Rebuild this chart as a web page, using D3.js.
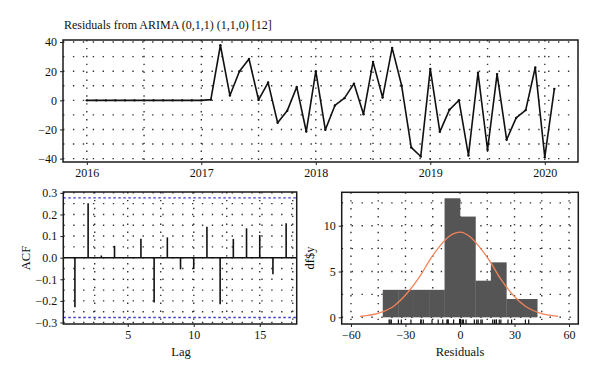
<!DOCTYPE html>
<html>
<head>
<meta charset="utf-8">
<script src="https://cdn.jsdelivr.net/npm/d3@7"></script>
<style>
	body { margin: 0; background: #fff; }
	svg { font-family: "Liberation Serif", serif; }
	.tick text { fill: #111; }
</style>
</head>
<body>
<div id="chart"></div>
<script>

// residuals (monthly, starting Jan 2016)

var startYear = 2016;
var residuals = [
	0, 0, 0, 0, 0, 0, 0, 0, 0, 0, 0, 0,
	0, 0.5, 37.8, 3.3, 20, 28.4, 0.3, 12.2, -15.4, -7.2, 9.2, -21.4,
	20, -20.2, -3.5, 1.5, 11.5, -9.5, 26.4, 1.9, 36, 10, -32.3, -38.5,
	21.6, -21.6, -6.5, 0.1, -37.8, 19, -33.9, 18, -27, -12, -6.7, 22.5,
	-39, 7.9
];

// autocorrelation by lag

var lags = [1, 2, 3, 4, 5, 6, 7, 8, 9, 10, 11, 12, 13, 14, 15, 16, 17];
var acfValues = [-0.23, 0.252, 0.01, 0.055, 0.002, 0.088, -0.208, 0.094, -0.054,
	-0.053, 0.143, -0.216, 0.087, 0.136, 0.105, -0.077, 0.159];
var acfBound = 0.277;

// histogram bins and counts

var binEdges = [-42.5, -34, -25.5, -17, -8.5, 0, 8.5, 17, 25.5, 34, 42.5];
var binCounts = [3, 3, 3, 3, 13, 11, 4, 6, 2, 2];

// normal curve

var curveX = [-55, -44, -36, -28, -22, -16.5, -11, -5.5, 0, 5.5, 11, 16.5, 22, 28, 36, 44, 54];
var curveY = [0.1, 0.5, 1.3, 2.9, 4.5, 6.3, 7.8, 8.9, 9.3, 8.8, 7.6, 6.1, 4.3, 2.7, 1.2, 0.45, 0.1];

// tick labels

var yearTicks = [2016, 2017, 2018, 2019, 2020];
var residTicks = [-40, -20, 0, 20, 40];
var acfTicks = [-0.3, -0.2, -0.1, 0.0, 0.1, 0.2, 0.3];
var lagTicks = [5, 10, 15];
var histXTicks = [-60, -30, 0, 30, 60];
var histYTicks = [0, 5, 10];


var svgWidth = 600;
var svgHeight = 382;

var svg = d3.select("#chart")
	.append("svg")
	.attr("width", svgWidth)
	.attr("height", svgHeight);

// helper: draws dotted grid and axes for a panel

function drawPanel(box, xScale, yScale, xMajor, xMinor, yMajor, yMinor, xFormat, yFormat) {

	var g = svg.append("g");

	// dotted grid

	g.selectAll(".hgrid")
		.data(yMajor.concat(yMinor))
		.enter()
		.append("line")
		.attr("x1", box.x0)
		.attr("x2", box.x1)
		.attr("y1", d => yScale(d))
		.attr("y2", d => yScale(d))
		.attr("stroke", "#333")
		.attr("stroke-width", 1.4)
		.attr("stroke-dasharray", "1.4,8.5");

	g.selectAll(".vgrid")
		.data(xMajor.concat(xMinor))
		.enter()
		.append("line")
		.attr("x1", d => xScale(d))
		.attr("x2", d => xScale(d))
		.attr("y1", box.y0)
		.attr("y2", box.y1)
		.attr("stroke", "#333")
		.attr("stroke-width", 1.4)
		.attr("stroke-dasharray", "1.4,6.5");

	// axes

	var bottomAxis = d3.axisBottom(xScale)
		.tickValues(xMajor)
		.tickSize(3)
		.tickPadding(3)
		.tickFormat(xFormat);

	var leftAxis = d3.axisLeft(yScale)
		.tickValues(yMajor)
		.tickSize(3)
		.tickPadding(3)
		.tickFormat(yFormat);

	var xAxis = svg.append("g")
		.attr("transform", `translate(0, ${box.y1})`)
		.call(bottomAxis);

	var yAxis = svg.append("g")
		.attr("transform", `translate(${box.x0}, 0)`)
		.call(leftAxis);

	[xAxis, yAxis].forEach(function(a) {
		a.select(".domain").remove();
		a.selectAll(".tick line").attr("stroke", "#222");
		a.selectAll(".tick text")
			.style("font-size", "12px")
			.style("font-family", "Liberation Serif");
	});

	return g;
}

function drawFrame(box) {
	svg.append("rect")
		.attr("x", box.x0)
		.attr("y", box.y0)
		.attr("width", box.x1 - box.x0)
		.attr("height", box.y1 - box.y0)
		.attr("fill", "none")
		.attr("stroke", "#1a1a1a")
		.attr("stroke-width", 1.5);
}

// ---------- top panel: residual series ----------

var topBox = { x0: 63, x1: 578, y0: 40, y1: 162 };

var series = residuals.map((v, i) => ({ t: startYear + i / 12, v: v }));

var tScale = d3.scaleLinear()
	.domain([2015.792, 2020.29])
	.range([topBox.x0, topBox.x1]);

var rScale = d3.scaleLinear()
	.domain([-42.3, 41.4])
	.range([topBox.y1, topBox.y0]);

drawPanel(topBox, tScale, rScale,
	yearTicks, [2016.5, 2017.5, 2018.5, 2019.5],
	residTicks, [-30, -10, 10, 30],
	d3.format("d"), d => d3.format("d")(d).replace("-", "\u2212"));

var line = d3.line()
	.x(d => tScale(d.t))
	.y(d => rScale(d.v));

svg.append("path")
	.datum(series)
	.attr("d", line)
	.attr("fill", "none")
	.attr("stroke", "#111")
	.attr("stroke-width", 1.6)
	.attr("stroke-linejoin", "round");

svg.selectAll(".pt")
	.data(series)
	.enter()
	.append("circle")
	.attr("cx", d => tScale(d.t))
	.attr("cy", d => rScale(d.v))
	.attr("r", 1.2)
	.attr("fill", "#111");

drawFrame(topBox);

svg.append("text")
	.attr("x", 64)
	.attr("y", 29)
	.style("font-size", "12px")
	.attr("fill", "#111")
	.text("Residuals from ARIMA (0,1,1) (1,1,0) [12]");

// ---------- bottom left: ACF ----------

var acfBox = { x0: 63.3, x1: 296.7, y0: 192, y1: 324 };

var lagScale = d3.scaleLinear()
	.domain([0.12, 17.8])
	.range([acfBox.x0, acfBox.x1]);

var acfScale = d3.scaleLinear()
	.domain([-0.307, 0.304])
	.range([acfBox.y1, acfBox.y0]);

drawPanel(acfBox, lagScale, acfScale,
	lagTicks, [2.5, 7.5, 12.5, 17.5],
	acfTicks, [-0.25, -0.15, -0.05, 0.05, 0.15, 0.25],
	d3.format("d"), d => d3.format(".1f")(d).replace("-", "\u2212"));

// zero line

svg.append("line")
	.attr("x1", acfBox.x0)
	.attr("x2", acfBox.x1)
	.attr("y1", acfScale(0))
	.attr("y2", acfScale(0))
	.attr("stroke", "#111")
	.attr("stroke-width", 1.4);

// confidence bounds

svg.selectAll(".bound")
	.data([acfBound, -acfBound])
	.enter()
	.append("line")
	.attr("x1", acfBox.x0)
	.attr("x2", acfBox.x1)
	.attr("y1", d => acfScale(d))
	.attr("y2", d => acfScale(d))
	.attr("stroke", "#3d3dcc")
	.attr("stroke-width", 1.4)
	.attr("stroke-dasharray", "2.5,2.5");

// acf spikes

svg.selectAll(".spike")
	.data(lags)
	.enter()
	.append("line")
	.attr("x1", d => lagScale(d))
	.attr("x2", d => lagScale(d))
	.attr("y1", acfScale(0))
	.attr("y2", (d, i) => acfScale(acfValues[i]))
	.attr("stroke", "#111")
	.attr("stroke-width", 1.6);

drawFrame(acfBox);

svg.append("text")
	.attr("x", 181)
	.attr("y", 356)
	.attr("text-anchor", "middle")
	.style("font-size", "12.5px")
	.attr("fill", "#111")
	.text("Lag");

svg.append("text")
	.attr("transform", "translate(30, 258) rotate(-90)")
	.attr("text-anchor", "middle")
	.style("font-size", "12.5px")
	.attr("fill", "#111")
	.text("ACF");

// ---------- bottom right: histogram ----------

var histBox = { x0: 341.7, x1: 578.3, y0: 192.3, y1: 324 };

var hxScale = d3.scaleLinear()
	.domain([-65.1, 65.1])
	.range([histBox.x0, histBox.x1]);

var hyScale = d3.scaleLinear()
	.domain([-0.73, 13.65])
	.range([histBox.y1, histBox.y0]);

drawPanel(histBox, hxScale, hyScale,
	histXTicks, [-45, -15, 15, 45],
	histYTicks, [2.5, 7.5, 12.5],
	d => d3.format("d")(d).replace("-", "\u2212"), d3.format("d"));

// bars

svg.selectAll(".bar")
	.data(binCounts)
	.enter()
	.append("rect")
	.attr("x", (d, i) => hxScale(binEdges[i]))
	.attr("width", (d, i) => hxScale(binEdges[i + 1]) - hxScale(binEdges[i]) + 0.3)
	.attr("y", d => hyScale(d))
	.attr("height", d => hyScale(0) - hyScale(d))
	.attr("fill", "#555");

// normal curve

var curve = d3.line()
	.x(d => hxScale(d[0]))
	.y(d => hyScale(d[1]))
	.curve(d3.curveMonotoneX);

svg.append("path")
	.datum(curveX.map((x, i) => [x, curveY[i]]))
	.attr("d", curve)
	.attr("fill", "none")
	.attr("stroke", "#f2835a")
	.attr("stroke-width", 1.3);

// rug

svg.selectAll(".rug")
	.data(residuals)
	.enter()
	.append("line")
	.attr("x1", d => hxScale(d))
	.attr("x2", d => hxScale(d))
	.attr("y1", histBox.y1)
	.attr("y2", histBox.y1 - 4.5)
	.attr("stroke", "#111")
	.attr("stroke-width", 1.2);

drawFrame(histBox);

svg.append("text")
	.attr("x", 460)
	.attr("y", 356)
	.attr("text-anchor", "middle")
	.style("font-size", "12.5px")
	.attr("fill", "#111")
	.text("Residuals");

svg.append("text")
	.attr("transform", "translate(314, 258) rotate(-90)")
	.attr("text-anchor", "middle")
	.style("font-size", "12.5px")
	.attr("fill", "#111")
	.text("df$y");

</script>
</body>
</html>
